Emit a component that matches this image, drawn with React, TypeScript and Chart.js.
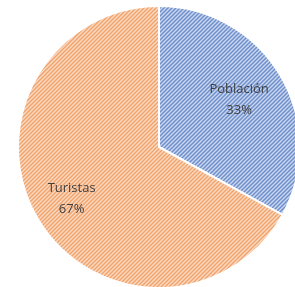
import React, { useEffect, useRef } from "react";
import { Chart, registerables } from "chart.js";

Chart.register(...registerables);

const categories = ["Población", "Turistas"];
const values = [33, 67];
const percentLabels = ["33%", "67%"];
const labelRadiusFrac = [0.66, 0.72];

function makePattern(bg: string, fg: string): CanvasPattern | string {
  const size = 4;
  const c = document.createElement("canvas");
  c.width = size;
  c.height = size;
  const ctx = c.getContext("2d");
  if (!ctx) return bg;
  ctx.fillStyle = bg;
  ctx.fillRect(0, 0, size, size);
  ctx.strokeStyle = fg;
  ctx.lineWidth = 1.5;
  ctx.beginPath();
  ctx.moveTo(-1, size + 1);
  ctx.lineTo(size + 1, -1);
  ctx.moveTo(-1, 1);
  ctx.lineTo(1, -1);
  ctx.moveTo(size - 1, size + 1);
  ctx.lineTo(size + 1, size - 1);
  ctx.stroke();
  const p = ctx.createPattern(c, "repeat");
  return p || bg;
}

const labelPlugin = {
  id: "sliceLabels",
  afterDatasetsDraw(chart: any) {
    const ctx = chart.ctx;
    const meta = chart.getDatasetMeta(0);
    ctx.save();
    ctx.fillStyle = "#404040";
    ctx.font = "13px 'Open Sans', sans-serif";
    ctx.textAlign = "center";
    ctx.textBaseline = "middle";
    meta.data.forEach((arc: any, i: number) => {
      const { x, y, startAngle, endAngle, outerRadius } = arc.getProps(
        ["x", "y", "startAngle", "endAngle", "outerRadius"],
        true
      );
      const mid = (startAngle + endAngle) / 2;
      const r = outerRadius * labelRadiusFrac[i];
      const cx = x + Math.cos(mid) * r;
      const cy = y + Math.sin(mid) * r;
      ctx.fillText(categories[i], cx, cy - 10.5);
      ctx.fillText(percentLabels[i], cx, cy + 10.5);
    });
    ctx.restore();
  },
};

export default function App() {
  const ref = useRef<HTMLCanvasElement>(null);
  useEffect(() => {
    document.body.style.margin = "0";
    document.body.style.overflow = "hidden";
    document.body.style.background = "#ffffff";
    if (!ref.current) return;
    const chart = new Chart(ref.current, {
      type: "pie",
      data: {
        labels: categories,
        datasets: [
          {
            data: values,
            backgroundColor: [
              makePattern("#cbd8f0", "#6f8fcc"),
              makePattern("#fcdcc6", "#f0a36b"),
            ],
            borderColor: "#ffffff",
            borderWidth: 2,
          },
        ],
      },
      options: {
        animation: false,
        responsive: false,
        maintainAspectRatio: false,
        layout: { padding: 5 },
        plugins: {
          legend: { display: false },
          tooltip: { enabled: false },
        },
      },
      plugins: [labelPlugin],
    });
    return () => chart.destroy();
  }, []);
  return (
    <div style={{ position: "fixed", left: 0, top: 0, width: 318, height: 294 }}>
      <canvas ref={ref} width={318} height={294} style={{ width: 318, height: 294 }} />
    </div>
  );
}
